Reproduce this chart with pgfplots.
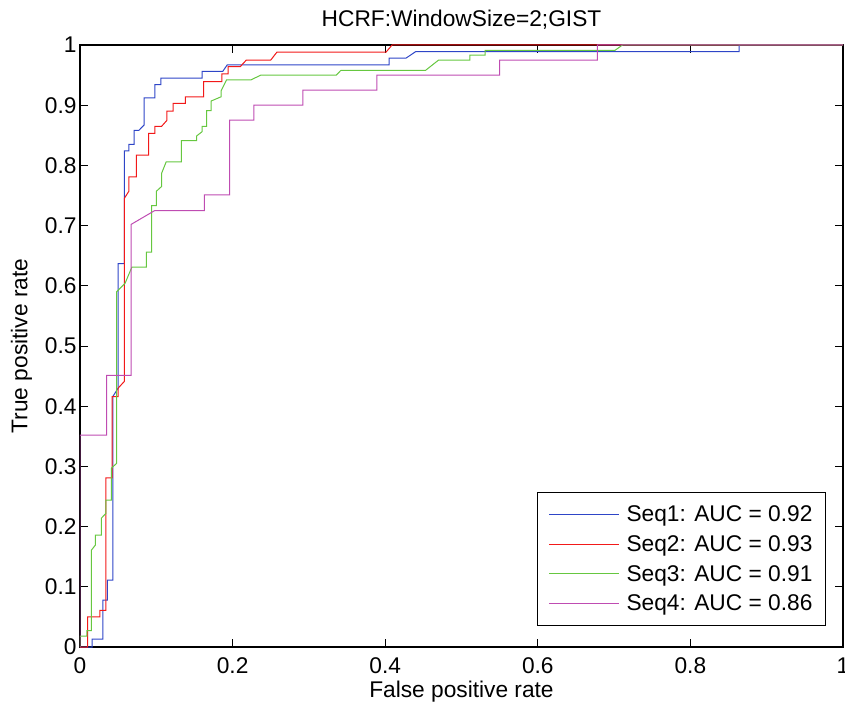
\documentclass[border=0pt]{standalone}
\usepackage{pgfplots}
\pgfplotsset{compat=1.18}
\usepackage{fontspec}
\setmainfont{Liberation Sans}
\definecolor{seqblue}{rgb}{0.18,0.27,0.78}
\definecolor{seqred}{rgb}{0.95,0.1,0.1}
\definecolor{seqgreen}{rgb}{0.4,0.78,0.25}
\definecolor{seqmag}{rgb}{0.75,0.3,0.7}
\newcommand{\bigf}{\fontsize{22.8}{26}\selectfont}
\begin{document}
\begin{tikzpicture}
\begin{axis}[
  scale only axis,
  width=763bp, height=602bp,
  xmin=0, xmax=1, ymin=0, ymax=1,
  xtick={0,0.2,0.4,0.6,0.8,1},
  ytick={0,0.1,0.2,0.3,0.4,0.5,0.6,0.7,0.8,0.9,1},
  xticklabels={0,0.2,0.4,0.6,0.8,1},
  yticklabels={0,0.1,0.2,0.3,0.4,0.5,0.6,0.7,0.8,0.9,1},
  tick align=inside,
  major tick length=8bp,
  tick style={black, line width=0.8bp},
  axis line style={black, line width=1.2bp},
  every tick label/.append style={font=\bigf},
  xticklabel style={yshift=-7bp},
  title={HCRF:WindowSize=2;GIST},
  title style={font=\bigf, yshift=6bp},
  xlabel={False positive rate},
  ylabel={True positive rate},
  xlabel style={font=\bigf, yshift=-1bp},
  ylabel style={font=\bigf, yshift=6bp},
  legend style={at={(1,0)}, anchor=south east, xshift=-17bp, yshift=21bp,
    draw=black, line width=1.2bp, font=\bigf,
    nodes={inner sep=2bp},
    row sep=8.5bp, inner xsep=11bp, inner ysep=11bp},
  legend cell align=left,
  legend image code/.code={\draw[#1, line width=1bp] (0bp,0bp) -- (70bp,0bp); \path (75bp,0bp);},
  every axis plot/.append style={line width=1bp},
]
\addplot[seqblue] coordinates {(0,0)(0.016,0)(0.016,0.013)(0.030,0.013)(0.030,0.078)(0.036,0.078)(0.036,0.111)(0.043,0.111)(0.043,0.416)(0.050,0.430)(0.050,0.637)(0.058,0.637)(0.058,0.824)(0.064,0.824)(0.064,0.835)(0.071,0.835)(0.071,0.858)(0.077,0.858)(0.084,0.867)(0.084,0.912)(0.098,0.912)(0.098,0.934)(0.106,0.934)(0.106,0.945)(0.160,0.945)(0.160,0.956)(0.187,0.956)(0.193,0.967)(0.405,0.967)(0.405,0.978)(0.427,0.978)(0.440,0.989)(0.864,0.989)(0.864,1)(1,1)};
\addlegendentry{Seq1: AUC = 0.92}
\addplot[seqred] coordinates {(0,0)(0.010,0)(0.010,0.050)(0.026,0.050)(0.026,0.061)(0.034,0.061)(0.034,0.281)(0.042,0.281)(0.042,0.416)(0.050,0.416)(0.050,0.430)(0.058,0.441)(0.058,0.745)(0.064,0.757)(0.064,0.781)(0.074,0.781)(0.074,0.817)(0.090,0.817)(0.090,0.853)(0.098,0.853)(0.098,0.865)(0.107,0.865)(0.114,0.875)(0.114,0.890)(0.122,0.890)(0.122,0.903)(0.138,0.903)(0.138,0.914)(0.162,0.914)(0.162,0.939)(0.186,0.939)(0.186,0.952)(0.194,0.952)(0.194,0.964)(0.210,0.964)(0.218,0.975)(0.250,0.975)(0.258,0.988)(0.401,0.988)(0.409,1)(1,1)};
\addlegendentry{Seq2: AUC = 0.93}
\addplot[seqgreen] coordinates {(0,0)(0,0.018)(0.009,0.018)(0.009,0.027)(0.015,0.027)(0.015,0.161)(0.020,0.169)(0.020,0.186)(0.028,0.186)(0.028,0.214)(0.034,0.222)(0.034,0.244)(0.041,0.244)(0.041,0.297)(0.048,0.305)(0.048,0.590)(0.059,0.604)(0.068,0.631)(0.087,0.631)(0.087,0.656)(0.094,0.656)(0.094,0.733)(0.100,0.733)(0.100,0.757)(0.107,0.765)(0.107,0.787)(0.113,0.806)(0.133,0.806)(0.133,0.841)(0.153,0.841)(0.153,0.849)(0.160,0.856)(0.160,0.865)(0.166,0.865)(0.166,0.891)(0.172,0.891)(0.172,0.907)(0.185,0.914)(0.185,0.924)(0.192,0.942)(0.224,0.942)(0.237,0.950)(0.336,0.950)(0.342,0.958)(0.453,0.958)(0.470,0.975)(0.511,0.975)(0.511,0.983)(0.531,0.983)(0.531,0.991)(0.701,0.991)(0.711,1)(1,1)};
\addlegendentry{Seq3: AUC = 0.91}
\addplot[seqmag] coordinates {(0,0)(0,0.352)(0.035,0.352)(0.035,0.451)(0.067,0.451)(0.067,0.702)(0.098,0.725)(0.163,0.725)(0.163,0.751)(0.196,0.751)(0.196,0.875)(0.228,0.875)(0.228,0.900)(0.292,0.900)(0.292,0.925)(0.389,0.925)(0.389,0.950)(0.550,0.950)(0.550,0.975)(0.678,0.975)(0.678,1)(1,1)};
\addlegendentry{Seq4: AUC = 0.86}
\end{axis}
\pgfresetboundingbox
\useasboundingbox (-80bp,-62bp) rectangle (765bp,647bp);
\end{tikzpicture}
\end{document}
